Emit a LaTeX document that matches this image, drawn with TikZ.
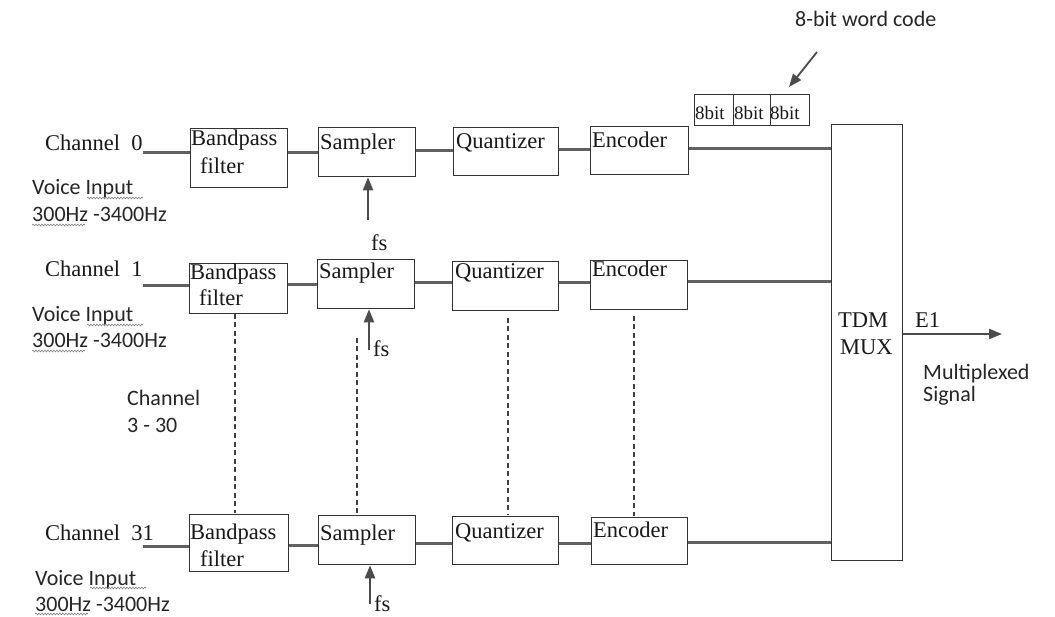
\documentclass[tikz,border=0pt]{standalone}
\usepackage{fontspec}
\setmainfont{Liberation Serif}
\newfontfamily\sansf{Carlito}
\usetikzlibrary{arrows.meta,decorations.pathmorphing}
\begin{document}
\begin{tikzpicture}[x=1pt,y=-1pt,
 box/.style={draw=black!80, line width=1.3pt, inner sep=0pt, anchor=north west},
 conn/.style={draw=black!62, line width=3pt},
 dsh/.style={draw=black!75, line width=1.4pt, dash pattern=on 5pt off 3.5pt},
 sig/.style={draw=black!70, line width=2.2pt, -{Triangle[length=13pt,width=10pt]}},
 ser/.style={inner sep=0pt, anchor=base west, font=\fontsize{22.5}{26}\selectfont, text=black!90},
 sml/.style={inner sep=0pt, anchor=base west, font=\fontsize{19}{22}\selectfont, text=black!90},
 san/.style={inner sep=0pt, anchor=base west, font=\sansf\fontsize{22}{26}\selectfont, text=black!85},
 sq/.style={draw=black!50, line width=0.6pt, decorate, decoration={snake, amplitude=0.9pt, segment length=3pt}}]
\fill[white] (0,0) rectangle (1055,617);
\useasboundingbox (0,0) rectangle (1055,617);

% ---------- boxes ----------
\node[box, minimum width=97pt, minimum height=59pt] (bp0) at (190,128) {};
\node[box, minimum width=97pt, minimum height=49pt] (s0)  at (318,127) {};
\node[box, minimum width=105pt, minimum height=48pt] (q0) at (453,127) {};
\node[box, minimum width=98pt, minimum height=48pt] (e0)  at (590,126) {};

\node[box, minimum width=98pt, minimum height=50pt] (bp1) at (189,263) {};
\node[box, minimum width=97pt, minimum height=49pt] (s1)  at (317,259) {};
\node[box, minimum width=106pt, minimum height=49pt] (q1) at (452,261) {};
\node[box, minimum width=97pt, minimum height=49pt] (e1)  at (590,260) {};

\node[box, minimum width=99pt, minimum height=57pt] (bp31) at (189,514) {};
\node[box, minimum width=97pt, minimum height=49pt] (s31)  at (318,515) {};
\node[box, minimum width=106pt, minimum height=48pt] (q31) at (452,516) {};
\node[box, minimum width=96pt, minimum height=47pt] (e31)  at (591,517) {};

\node[box, minimum width=71pt, minimum height=436pt] (mux) at (831,124) {};

\node[box, minimum width=39pt, minimum height=31pt] (b1) at (694,94) {};
\node[box, minimum width=37pt, minimum height=31pt] (b2) at (733,94) {};
\node[box, minimum width=39pt, minimum height=31pt] (b3) at (770,94) {};

% ---------- box texts ----------
\node[ser] (tbp0) at (191,146) {Bandpass};
\node[ser] (tf0)  at (200,174) {filter};
\node[ser] (ts0)  at (320,150) {Sampler};
\node[ser] (tq0)  at (456,149) {Quantizer};
\node[ser] (te0)  at (592,148) {Encoder};

\node[ser] (tbp1) at (190,280) {Bandpass};
\node[ser] (tf1)  at (199,306) {filter};
\node[ser] (ts1)  at (319,279) {Sampler};
\node[ser] (tq1)  at (455,279) {Quantizer};
\node[ser] (te1)  at (592,277) {Encoder};

\node[ser] (tbp31) at (190,539) {Bandpass};
\node[ser] (tf31)  at (200,566) {filter};
\node[ser] (ts31)  at (320,540) {Sampler};
\node[ser] (tq31)  at (455,538) {Quantizer};
\node[ser] (te31)  at (593,537) {Encoder};

\node[ser] (ttdm) at (838,328) {TDM};
\node[ser] (tmux) at (840,355) {MUX};

\node[sml] (tb1) at (695,120) {8bit};
\node[sml] (tb2) at (734,120) {8bit};
\node[sml] (tb3) at (770,120) {8bit};

% ---------- channel labels ----------
\node[ser] (ch0)  at (45,151) {Channel\ \ 0};
\node[ser] (ch1)  at (45,277) {Channel\ \ 1};
\node[ser] (ch31) at (45,540) {Channel\ \ 31};

\node[san] (vi0) at (32,195) {Voice Input};
\node[san] (hz0) at (32,222) {300Hz -3400Hz};
\node[san] (vi1) at (32,322) {Voice Input};
\node[san] (hz1) at (32,348) {300Hz -3400Hz};
\node[san] (vi31) at (35,585) {Voice Input};
\node[san] (hz31) at (35,611) {300Hz -3400Hz};

\draw[sq] (87,198) -- (143,198);
\draw[sq] (32,225) -- (85,225);
\draw[sq] (87,325) -- (143,325);
\draw[sq] (32,351) -- (85,351);
\draw[sq] (90,588) -- (146,588);
\draw[sq] (35,614) -- (88,614);

\node[san] (ch330a) at (127,406) {Channel};
\node[san] (ch330b) at (127,432) {3 - 30};

\node[san] (code) at (795,27) {8-bit word code};
\node[ser] (tE1) at (915,328) {E1};
\node[san] (mpx) at (923,380) {Multiplexed};
\node[san] (sgl) at (923,402) {Signal};

% ---------- connectors ----------
\coordinate (in0) at (143,153);
\coordinate (in1) at (143,286);
\coordinate (in31) at (143,546);

\draw[conn] (in0) -- (bp0.west |- in0);
\draw[conn] (bp0.east |- 0,153) -- (s0.west |- 0,153);
\draw[conn] (s0.east |- 0,151) -- (q0.west |- 0,151);
\draw[conn] (q0.east |- 0,150) -- (e0.west |- 0,150);
\draw[conn] (e0.east |- 0,149) -- (mux.west |- 0,149);

\draw[conn] (in1) -- (bp1.west |- in1);
\draw[conn] (bp1.east |- 0,285) -- (s1.west |- 0,285);
\draw[conn] (s1.east |- 0,283) -- (q1.west |- 0,283);
\draw[conn] (q1.east |- 0,283) -- (e1.west |- 0,283);
\draw[conn] (e1.east |- 0,282) -- (mux.west |- 0,282);

\draw[conn] (in31) -- (bp31.west |- in31);
\draw[conn] (bp31.east |- 0,545) -- (s31.west |- 0,545);
\draw[conn] (s31.east |- 0,543) -- (q31.west |- 0,543);
\draw[conn] (q31.east |- 0,543) -- (e31.west |- 0,543);
\draw[conn] (e31.east |- 0,542) -- (mux.west |- 0,542);

% fs arrows
\coordinate (fs0) at (368,220);
\coordinate (fs1) at (369,350);
\coordinate (fs31) at (370,604);
\draw[sig] (fs0) -- (fs0 |- s0.south);
\draw[sig] (fs1) -- (fs1 |- s1.south);
\draw[sig] (fs31) -- (fs31 |- s31.south);
\node[ser] (lfs0) at (371,251) {fs};
\node[ser] (lfs1) at (373,357) {fs};
\node[ser] (lfs31) at (374,611) {fs};

% output arrow
\coordinate (out) at (1002,334);
\draw[sig] (mux.east |- out) -- (out);

% 8-bit word code arrow
\coordinate (wc) at (817,52);
\coordinate (wct) at (789,87);
\draw[sig, line width=1.8pt] (wc) -- (wct);

% dashed continuation lines
\draw[dsh] (235,314) -- (235,513);
\draw[dsh] (357,338) -- (357,514);
\draw[dsh] (508,318) -- (508,515);
\draw[dsh] (634,316) -- (634,516);
\end{tikzpicture}
\end{document}
